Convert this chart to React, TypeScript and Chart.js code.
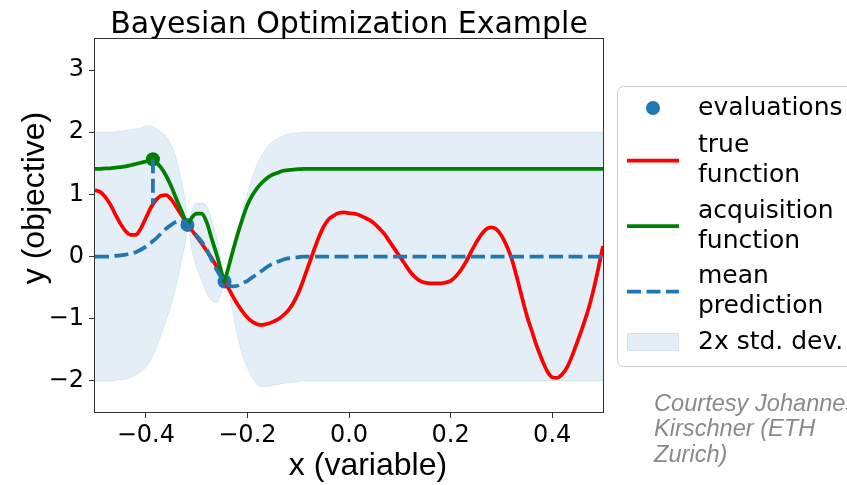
import { useEffect, useRef } from "react";
import { Chart, registerables } from "chart.js";

Chart.register(...registerables);

// Sample positions along the x axis (evaluation points included so the band pinches there)
const xGrid = [
  -0.5, -0.49, -0.48, -0.47, -0.46, -0.45, -0.44, -0.43, -0.42, -0.41, -0.4, -0.39,
  -0.386,
  -0.38, -0.37, -0.36, -0.35, -0.34, -0.33, -0.32,
  -0.318,
  -0.31, -0.3, -0.29, -0.28, -0.27, -0.26, -0.25,
  -0.245,
  -0.24, -0.23, -0.22, -0.21, -0.2, -0.19, -0.18, -0.17, -0.16, -0.15, -0.14, -0.13, -0.12,
  -0.11, -0.1, -0.09, -0.08, -0.07, -0.06, -0.05, -0.04, -0.03, -0.02, -0.01, 0.0,
  0.01, 0.02, 0.03, 0.04, 0.05, 0.06, 0.07, 0.08, 0.09, 0.1,
  0.11, 0.12, 0.13, 0.14, 0.15, 0.16, 0.17, 0.18, 0.19, 0.2,
  0.21, 0.22, 0.23, 0.24, 0.25, 0.26, 0.27, 0.28, 0.29, 0.3,
  0.31, 0.32, 0.33, 0.34, 0.35, 0.36, 0.37, 0.38, 0.39, 0.4,
  0.41, 0.42, 0.43, 0.44, 0.45, 0.46, 0.47, 0.48, 0.49, 0.5,
];

// True objective
const trueFunction = [
  1.07, 1.04, 0.96, 0.84, 0.68, 0.53, 0.41, 0.35, 0.35, 0.45, 0.62, 0.79,
  0.84,
  0.91, 0.98, 0.99, 0.92, 0.8, 0.67, 0.54,
  0.51,
  0.43, 0.32, 0.21, 0.09, -0.03, -0.17, -0.32,
  -0.4,
  -0.47, -0.62, -0.76, -0.88, -0.98, -1.05, -1.09, -1.1, -1.08, -1.05, -1.01, -0.95, -0.87,
  -0.75, -0.59, -0.38, -0.15, 0.08, 0.3, 0.48, 0.6, 0.66, 0.7, 0.71, 0.7,
  0.69, 0.67, 0.63, 0.59, 0.53, 0.45, 0.36, 0.24, 0.12, 0.0,
  -0.12, -0.24, -0.33, -0.39, -0.42, -0.43, -0.43, -0.43, -0.42, -0.39,
  -0.32, -0.22, -0.09, 0.07, 0.22, 0.35, 0.44, 0.47, 0.44, 0.34,
  0.18, -0.03, -0.32, -0.64, -0.95, -1.2, -1.45, -1.66, -1.84, -1.94,
  -1.95, -1.89, -1.77, -1.58, -1.36, -1.13, -0.88, -0.58, -0.22, 0.17,
];

// Acquisition function
const acquisition = [
  1.41, 1.41, 1.42, 1.42, 1.43, 1.44, 1.45, 1.47, 1.49, 1.51, 1.53, 1.555,
  1.566,
  1.52, 1.43, 1.3, 1.13, 0.93, 0.74, 0.54,
  0.51,
  0.62, 0.69, 0.69, 0.55, 0.28, 0.02, -0.28,
  -0.4,
  -0.26, 0.05, 0.34, 0.6, 0.83, 0.99, 1.11, 1.2, 1.27, 1.32, 1.35, 1.38, 1.39,
  1.4, 1.405, 1.41, 1.41, 1.41, 1.41, 1.41, 1.41, 1.41, 1.41, 1.41, 1.41,
  1.41, 1.41, 1.41, 1.41, 1.41, 1.41, 1.41, 1.41, 1.41, 1.41,
  1.41, 1.41, 1.41, 1.41, 1.41, 1.41, 1.41, 1.41, 1.41, 1.41,
  1.41, 1.41, 1.41, 1.41, 1.41, 1.41, 1.41, 1.41, 1.41, 1.41,
  1.41, 1.41, 1.41, 1.41, 1.41, 1.41, 1.41, 1.41, 1.41, 1.41,
  1.41, 1.41, 1.41, 1.41, 1.41, 1.41, 1.41, 1.41, 1.41, 1.41,
];

// Posterior mean
const meanPrediction = [
  0, 0, 0, 0, 0.01, 0.02, 0.03, 0.05, 0.07, 0.11, 0.16, 0.22,
  0.25,
  0.29, 0.37, 0.45, 0.51, 0.56, 0.58, 0.54,
  0.51,
  0.43, 0.34, 0.24, 0.11, -0.06, -0.22, -0.35,
  -0.4,
  -0.44, -0.48, -0.47, -0.43, -0.39, -0.33, -0.28, -0.22, -0.16, -0.11, -0.08, -0.05, -0.03,
  -0.02, -0.01, 0, 0, 0, 0, 0, 0, 0, 0, 0, 0,
  0, 0, 0, 0, 0, 0, 0, 0, 0, 0,
  0, 0, 0, 0, 0, 0, 0, 0, 0, 0,
  0, 0, 0, 0, 0, 0, 0, 0, 0, 0,
  0, 0, 0, 0, 0, 0, 0, 0, 0, 0,
  0, 0, 0, 0, 0, 0, 0, 0, 0, 0,
];

// Two posterior standard deviations
const twoStdDev = [
  2.0, 2.0, 2.0, 2.0, 2.0, 2.0, 2.0, 1.99, 1.98, 1.96, 1.94, 1.88,
  1.84,
  1.77, 1.63, 1.48, 1.28, 1.02, 0.65, 0.2,
  0,
  0.3, 0.52, 0.62, 0.7, 0.65, 0.52, 0.2,
  0,
  0.05, 0.35, 0.8, 1.15, 1.4, 1.62, 1.78, 1.87, 1.93, 1.96, 1.98, 1.99, 2.0,
  2.0, 2.0, 2.0, 2.0, 2.0, 2.0, 2.0, 2.0, 2.0, 2.0, 2.0, 2.0,
  2.0, 2.0, 2.0, 2.0, 2.0, 2.0, 2.0, 2.0, 2.0, 2.0,
  2.0, 2.0, 2.0, 2.0, 2.0, 2.0, 2.0, 2.0, 2.0, 2.0,
  2.0, 2.0, 2.0, 2.0, 2.0, 2.0, 2.0, 2.0, 2.0, 2.0,
  2.0, 2.0, 2.0, 2.0, 2.0, 2.0, 2.0, 2.0, 2.0, 2.0,
  2.0, 2.0, 2.0, 2.0, 2.0, 2.0, 2.0, 2.0, 2.0, 2.0,
];

// Observed evaluations
const evalX = [-0.318, -0.245];
const evalY = [0.51, -0.4];

// Next query: acquisition maximum and the true value beneath it
const queryX = -0.386;
const queryAcq = 1.566;
const queryTrue = 0.84;

const xTicks = [-0.4, -0.2, 0.0, 0.2, 0.4];
const yTicks = [-2, -1, 0, 1, 2, 3];

const legendLabels = [
  ["evaluations"],
  ["true", "function"],
  ["acquisition", "function"],
  ["mean", "prediction"],
  ["2x std. dev."],
];
const creditLines = ["Courtesy Johannes", "Kirschner (ETH", "Zurich)"];

const BLUE = "#1f77b4";
const RED = "#ff0000";
const GREEN = "#008000";
const BAND_FILL = "rgba(31,119,180,0.12)";
const BAND_EDGE = "rgba(31,119,180,0.10)";
const DASH = [14, 5.5];
const LW = 3.75;

const signed = (v: number, digits: number) =>
  (v < 0 ? "\u2212" : "") + Math.abs(v).toFixed(digits);

const toPoints = (ys: number[]) => xGrid.map((x, i) => ({ x, y: ys[i] }));

const decorations = {
  id: "decorations",
  afterDraw(chart: any) {
    const { ctx, chartArea: a } = chart;
    ctx.save();

    // Full box around the axes
    ctx.strokeStyle = "#333";
    ctx.lineWidth = 1;
    ctx.strokeRect(a.left - 0.5, a.top - 0.5, a.right - a.left + 1, a.bottom - a.top + 1);

    // Title
    ctx.fillStyle = "#000";
    ctx.textAlign = "center";
    ctx.textBaseline = "alphabetic";
    ctx.font = '30px "DejaVu Sans"';
    ctx.fillText("Bayesian Optimization Example", (a.left + a.right) / 2, 33);

    // Axis titles
    ctx.font = '32px "Liberation Sans"';
    ctx.fillText("x (variable)", 368, 475);
    ctx.save();
    ctx.translate(44, 198);
    ctx.rotate(-Math.PI / 2);
    ctx.fillText("y (objective)", 0, 0);
    ctx.restore();

    // Legend frame
    ctx.beginPath();
    ctx.roundRect(617.5, 86.5, 260, 280, 6);
    ctx.fillStyle = "rgba(255,255,255,0.8)";
    ctx.fill();
    ctx.strokeStyle = "#cccccc";
    ctx.lineWidth = 1;
    ctx.stroke();

    const hx0 = 627;
    const hx1 = 679;
    const tx = 698;

    // evaluations marker
    ctx.fillStyle = BLUE;
    ctx.beginPath();
    ctx.arc((hx0 + hx1) / 2, 108, 7, 0, Math.PI * 2);
    ctx.fill();

    const handleLine = (y: number, color: string, dash: number[]) => {
      ctx.save();
      ctx.strokeStyle = color;
      ctx.lineWidth = LW;
      ctx.lineCap = "butt";
      ctx.setLineDash(dash);
      ctx.beginPath();
      ctx.moveTo(hx0, y);
      ctx.lineTo(hx1, y);
      ctx.stroke();
      ctx.restore();
    };
    handleLine(160.7, RED, []);
    handleLine(226, GREEN, []);
    handleLine(291.7, BLUE, DASH);

    // band patch
    ctx.fillStyle = BAND_FILL;
    ctx.fillRect(hx0, 333, hx1 - hx0, 18);
    ctx.strokeStyle = BAND_EDGE;
    ctx.strokeRect(hx0 + 0.5, 333.5, hx1 - hx0 - 1, 17);

    // legend texts
    ctx.fillStyle = "#000";
    ctx.textAlign = "left";
    ctx.font = '25px "DejaVu Sans"';
    const baselines = [[115], [151.7, 181.7], [218.3, 248.3], [283.3, 313.3], [349.3]];
    legendLabels.forEach((lines, i) => {
      lines.forEach((t, j) => ctx.fillText(t, tx, baselines[i][j]));
    });

    // Credit note
    ctx.fillStyle = "#8a8a8a";
    ctx.font = 'italic 23.6px "Liberation Sans"';
    creditLines.forEach((t, i) => ctx.fillText(t, 654, 410.5 + i * 25.5));

    ctx.restore();
  },
};

export default function App() {
  const canvasRef = useRef<HTMLCanvasElement | null>(null);

  useEffect(() => {
    const canvas = canvasRef.current;
    if (!canvas) return;

    const upper = meanPrediction.map((m, i) => m + twoStdDev[i]);
    const lower = meanPrediction.map((m, i) => m - twoStdDev[i]);

    const tickStyle = { family: "DejaVu Sans", size: 24 };

    const chart = new Chart(canvas, {
      type: "line",
      data: {
        datasets: [
          {
            label: "upper",
            data: toPoints(upper),
            borderColor: BAND_EDGE,
            borderWidth: 1,
            backgroundColor: BAND_FILL,
            fill: 1,
            pointRadius: 0,
            cubicInterpolationMode: "monotone",
            order: 20,
          },
          {
            label: "lower",
            data: toPoints(lower),
            borderColor: BAND_EDGE,
            borderWidth: 1,
            fill: false,
            pointRadius: 0,
            cubicInterpolationMode: "monotone",
            order: 19,
          },
          {
            label: "evaluations",
            data: evalX.map((x, i) => ({ x, y: evalY[i] })),
            showLine: false,
            pointRadius: 7,
            pointBorderWidth: 0,
            pointBackgroundColor: BLUE,
            order: 15,
          },
          {
            label: "true function",
            data: toPoints(trueFunction),
            borderColor: RED,
            borderWidth: LW,
            pointRadius: 0,
            fill: false,
            cubicInterpolationMode: "monotone",
            order: 14,
          },
          {
            label: "acquisition function",
            data: toPoints(acquisition),
            borderColor: GREEN,
            borderWidth: LW,
            pointRadius: 0,
            fill: false,
            cubicInterpolationMode: "monotone",
            order: 13,
          },
          {
            label: "next query",
            data: [{ x: queryX, y: queryAcq }],
            showLine: false,
            pointRadius: 7,
            pointBorderWidth: 0,
            pointBackgroundColor: GREEN,
            order: 12,
          },
          {
            label: "query drop",
            data: [
              { x: queryX, y: queryAcq },
              { x: queryX, y: queryTrue },
            ],
            borderColor: BLUE,
            borderWidth: LW,
            borderDash: DASH,
            pointRadius: 0,
            fill: false,
            order: 11,
          },
          {
            label: "mean prediction",
            data: toPoints(meanPrediction),
            borderColor: BLUE,
            borderWidth: LW,
            borderDash: DASH,
            pointRadius: 0,
            fill: false,
            cubicInterpolationMode: "monotone",
            order: 10,
          },
        ],
      },
      options: {
        animation: false,
        responsive: false,
        devicePixelRatio: 1,
        events: [],
        layout: { padding: { top: 39, right: 244, left: 0, bottom: 0 } },
        plugins: {
          legend: { display: false },
          tooltip: { enabled: false },
          title: { display: false },
        },
        scales: {
          x: {
            type: "linear",
            min: -0.5,
            max: 0.5,
            afterBuildTicks: (scale: any) => {
              scale.ticks = xTicks.map((value) => ({ value }));
            },
            afterFit: (scale: any) => {
              scale.height = 73;
            },
            ticks: {
              font: tickStyle,
              color: "#000",
              padding: 3,
              maxRotation: 0,
              autoSkip: false,
              callback: (v: any) => signed(Number(v), 1),
            },
            grid: {
              display: true,
              drawOnChartArea: false,
              drawTicks: true,
              tickLength: 6,
              color: "#333",
            },
            border: { display: false },
          },
          y: {
            type: "linear",
            min: -2.5,
            max: 3.5,
            afterBuildTicks: (scale: any) => {
              scale.ticks = yTicks.map((value) => ({ value }));
            },
            afterFit: (scale: any) => {
              scale.width = 95;
            },
            ticks: {
              font: tickStyle,
              color: "#000",
              padding: 5,
              autoSkip: false,
              callback: (v: any) => signed(Number(v), 0),
            },
            grid: {
              display: true,
              drawOnChartArea: false,
              drawTicks: true,
              tickLength: 6,
              color: "#333",
            },
            border: { display: false },
          },
        },
      },
      plugins: [decorations],
    } as any);

    return () => chart.destroy();
  }, []);

  return (
    <div style={{ position: "fixed", left: 0, top: 0, width: 847, height: 485, background: "#fff" }}>
      <canvas ref={canvasRef} width={847} height={485} style={{ display: "block" }} />
    </div>
  );
}
